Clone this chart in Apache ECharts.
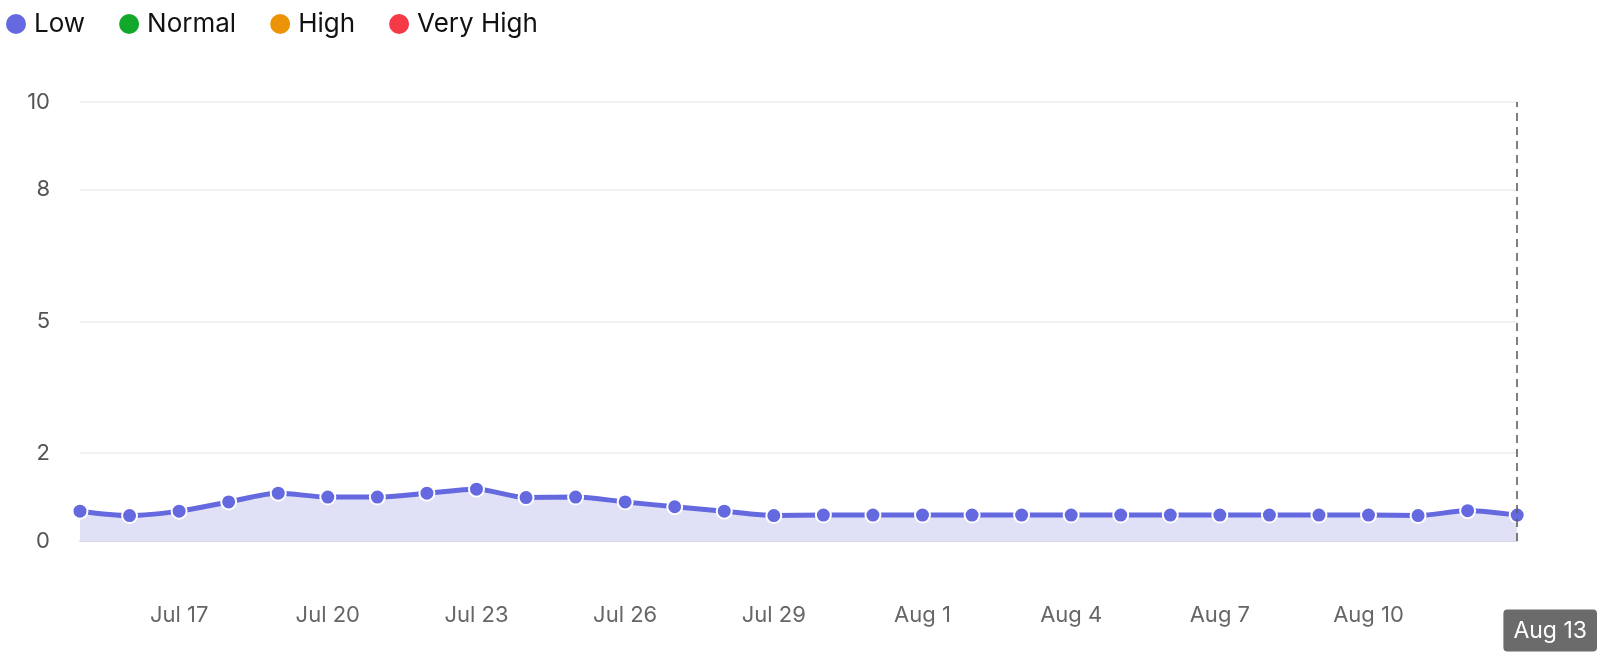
<!DOCTYPE html>
<html>
<head>
<meta charset="utf-8">
<script src="https://cdn.jsdelivr.net/npm/echarts@6/dist/echarts.min.js"></script>
<style>
  html, body { margin: 0; padding: 0; background: #fff; }
  #chart { width: 1600px; height: 657px; }
</style>
</head>
<body>
<div id="chart"></div>
<script>
// days shown on the x axis
const days = [
  'Jul 15', 'Jul 16', 'Jul 17', 'Jul 18', 'Jul 19', 'Jul 20', 'Jul 21', 'Jul 22',
  'Jul 23', 'Jul 24', 'Jul 25', 'Jul 26', 'Jul 27', 'Jul 28', 'Jul 29', 'Jul 30',
  'Jul 31', 'Aug 1', 'Aug 2', 'Aug 3', 'Aug 4', 'Aug 5', 'Aug 6', 'Aug 7',
  'Aug 8', 'Aug 9', 'Aug 10', 'Aug 11', 'Aug 12', 'Aug 13'
]
const lowValues = [
  0.68, 0.58, 0.68, 0.89, 1.09, 1.0, 1.0, 1.09,
  1.18, 0.99, 1.0, 0.89, 0.78, 0.68, 0.58, 0.59,
  0.59, 0.59, 0.59, 0.59, 0.59, 0.59, 0.59, 0.59,
  0.59, 0.59, 0.59, 0.58, 0.69, 0.59
]
const yTicks = [0, 2, 5, 8, 10]
const levels = ['Low', 'Normal', 'High', 'Very High']
const levelColors = ['#6569df', '#12a82c', '#ec9306', '#f43a47']
const selectedDay = 'Aug 13'

const chart = echarts.init(document.getElementById('chart'))

const series = levels.map((name, i) => ({
  name,
  type: 'line',
  data: i === 0 ? lowValues : [],
  smooth: 0.3,
  symbol: 'circle',
  symbolSize: 15,
  showAllSymbol: true,
  lineStyle: { width: 5, color: levelColors[i] },
  itemStyle: { color: levelColors[i], borderColor: '#fff', borderWidth: 2 },
  areaStyle: i === 0 ? { color: '#e0e0f7', opacity: 1 } : undefined,
  emphasis: { disabled: true },
  z: 3
}))

// grid lines at the custom tick values + dashed marker on the selected day
series.push({
  name: 'grid',
  type: 'line',
  data: [],
  silent: true,
  markLine: {
    silent: true,
    symbol: 'none',
    label: { show: false },
    lineStyle: { color: '#ececec', width: 1.5, type: 'solid' },
    data: yTicks.filter(v => v > 0).map(v => ({ yAxis: v })).concat([{
      xAxis: selectedDay,
      lineStyle: { color: '#555', type: [8, 6], width: 1.5 }
    }])
  },
  z: 1
})

const lastIdx = days.length - 1

const option = {
  animation: false,
  textStyle: { fontFamily: 'Inter' },
  color: levelColors,
  legend: {
    data: levels,
    left: -1,
    top: 6,
    icon: 'circle',
    itemWidth: 22,
    itemHeight: 22,
    itemGap: 32,
    textStyle: { fontSize: 26, color: '#111', fontFamily: 'Inter', padding: [0, 0, 0, 2] }
  },
  grid: { left: 80, right: 81, top: 102, bottom: 116, containLabel: false },
  xAxis: {
    type: 'category',
    data: days,
    boundaryGap: false,
    axisLine: { show: true, lineStyle: { color: '#c8c8d8', width: 1.5 } },
    axisTick: { show: false },
    axisLabel: {
      color: '#666',
      fontSize: 22,
      margin: 63,
      interval: (idx) => (lastIdx - idx) % 3 === 0,
      formatter: (value, idx) => value === selectedDay ? '{gap|}{box|' + value + '}' : value,
      rich: {
        gap: { width: 66, height: 53 },
        box: {
          backgroundColor: '#6b6b6b',
          color: '#fff',
          fontSize: 23,
          padding: [10, 10, 9, 10],
          borderRadius: 4
        }
      }
    }
  },
  yAxis: {
    type: 'value',
    min: 0,
    max: 10,
    interval: 1,
    axisLine: { show: false },
    axisTick: { show: false },
    splitLine: { show: false },
    axisLabel: {
      color: '#555',
      fontSize: 22,
      margin: 30,
      customValues: yTicks
    }
  },
  series
}

chart.setOption(option)
</script>
</body>
</html>
